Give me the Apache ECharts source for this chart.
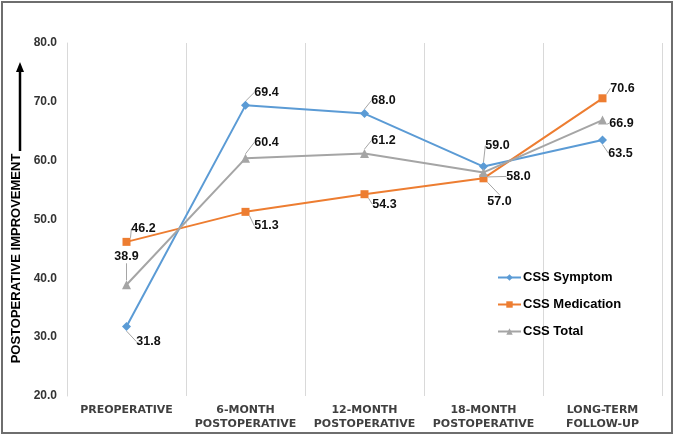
<!DOCTYPE html>
<html>
<head>
<meta charset="utf-8">
<script src="https://cdn.jsdelivr.net/npm/echarts@6/dist/echarts.min.js"></script>
<style>
html,body{margin:0;padding:0;background:#fff;}
#chart{width:675px;height:436px;}
</style>
</head>
<body>
<div id="chart"></div>
<script>
const categories = ['PREOPERATIVE', '6-MONTH\nPOSTOPERATIVE', '12-MONTH\nPOSTOPERATIVE', '18-MONTH\nPOSTOPERATIVE', 'LONG-TERM\nFOLLOW-UP'];
const seriesNames = ['CSS Symptom', 'CSS Medication', 'CSS Total'];
const cssSymptom = [31.8, 69.4, 68.0, 59.0, 63.5];
const cssMedication = [46.2, 51.3, 54.3, 57.0, 70.6];
const cssTotal = [38.9, 60.4, 61.2, 58.0, 66.9];
const yMin = 20, yMax = 80, yStep = 10;
const yTitle = 'POSTOPERATIVE IMPROVEMENT';

// label callout offsets (style only)
const symptomOffsets = [[22, 15], [21, -13], [19, -13], [14, -21], [18, 13]];
const medicationOffsets = [[17, -13], [21, 14], [20, 10], [16, 23], [20, -10]];
const totalOffsets = [[0, -28], [21, -16], [19, -13], [35, 4], [19, 3]];

const FONT = '"Liberation Sans", Arial, sans-serif';

function mkSeries(name, data, color, symbol, symbolSize, offsets) {
  return {
    name: name,
    type: 'line',
    data: data,
    symbol: symbol,
    symbolSize: symbolSize,
    showAllSymbol: true,
    lineStyle: { color: color, width: 2 },
    itemStyle: { color: color },
    label: {
      show: true,
      position: 'inside',
      formatter: p => Number(p.value).toFixed(1),
      fontFamily: FONT,
      fontWeight: 'bold',
      fontSize: 12.5,
      color: '#111'
    },
    labelLine: { show: true, lineStyle: { color: '#a6a6a6', width: 1 } },
    labelLayout: function (params) {
      const o = offsets[params.dataIndex];
      return { dx: o[0], dy: o[1] };
    },
    emphasis: { disabled: true },
    animation: false
  };
}

const chart = echarts.init(document.getElementById('chart'), null, { renderer: 'canvas' });
chart.setOption({
  backgroundColor: '#fff',
  animation: false,
  grid: { left: 67, right: 13, top: 43, bottom: 40 },
  legend: {
    orient: 'vertical',
    left: 497,
    top: 271,
    padding: 0,
    itemGap: 14,
    itemWidth: 23,
    itemHeight: 8,
    data: seriesNames,
    textStyle: { fontFamily: FONT, fontWeight: 'bold', fontSize: 13, color: '#000', padding: [0, 0, 0, -3] }
  },
  xAxis: {
    type: 'category',
    data: categories,
    boundaryGap: true,
    axisLine: { show: false },
    axisTick: { show: false },
    splitLine: { show: true, lineStyle: { color: '#d9d9d9', width: 1 } },
    axisLabel: {
      interval: 0,
      margin: 7,
      fontFamily: '"DejaVu Sans", sans-serif',
      fontWeight: 'bold',
      fontSize: 11,
      lineHeight: 14,
      color: '#404040'
    }
  },
  yAxis: {
    type: 'value',
    min: yMin,
    max: yMax,
    interval: yStep,
    name: yTitle,
    nameLocation: 'middle',
    nameGap: 42,
    nameRotate: 90,
    nameTextStyle: {
      fontFamily: FONT,
      fontWeight: 'bold',
      fontSize: 13,
      color: '#000',
      padding: [0, 78, 0, 0]
    },
    axisLine: { show: true, lineStyle: { color: '#d9d9d9', width: 1 } },
    axisTick: { show: false },
    splitLine: { show: false },
    axisLabel: {
      margin: 10,
      formatter: v => v.toFixed(1),
      fontFamily: FONT,
      fontWeight: 'bold',
      fontSize: 12,
      color: '#333'
    }
  },
  graphic: [
    {
      type: 'rect',
      shape: { x: 2, y: 2, width: 670, height: 431 },
      style: { fill: null, stroke: '#6e6e6e', lineWidth: 2 },
      silent: true
    },
    {
      type: 'line',
      shape: { x1: 20, y1: 151, x2: 20, y2: 70 },
      style: { stroke: '#000', lineWidth: 2.5 },
      silent: true
    },
    {
      type: 'polygon',
      shape: { points: [[20, 62], [16, 72], [24, 72]] },
      style: { fill: '#000' },
      silent: true
    }
  ],
  series: [
    mkSeries(seriesNames[0], cssSymptom, '#5b9bd5', 'diamond', 9, symptomOffsets),
    mkSeries(seriesNames[1], cssMedication, '#ed7d31', 'rect', 8, medicationOffsets),
    mkSeries(seriesNames[2], cssTotal, '#a5a5a5', 'triangle', 9, totalOffsets)
  ]
});
</script>
</body>
</html>
